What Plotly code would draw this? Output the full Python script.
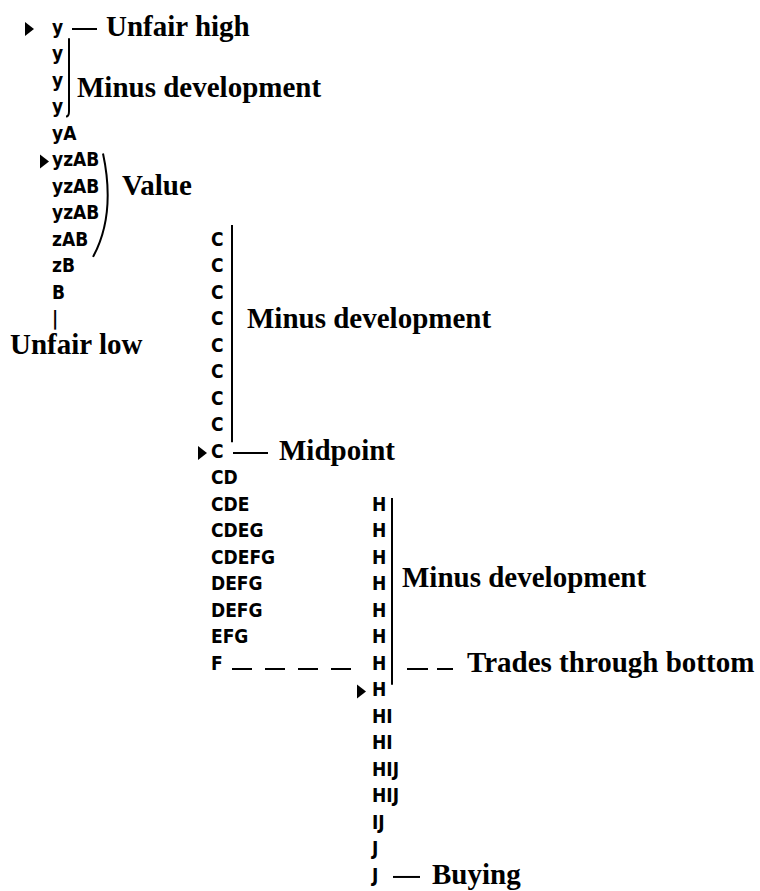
#%%
import plotly.graph_objects as go

#%%
# market profile letters, one string per price row (row 0 = top)
col1_letters = ["y", "y", "y", "y", "yA", "yzAB", "yzAB", "yzAB", "zAB", "zB", "B", "|"]
col1_start = 0
col2_letters = ["C", "C", "C", "C", "C", "C", "C", "C", "C",
                "CD", "CDE", "CDEG", "CDEFG", "DEFG", "DEFG", "EFG", "F"]
col2_start = 8
col3_letters = ["H", "H", "H", "H", "H", "H", "H", "H",
                "HI", "HI", "HIJ", "HIJ", "IJ", "J", "J"]
col3_start = 18

# rows marked with an arrow
col1_arrows = [0, 5]
col2_arrows = [16]
col3_arrows = [25]

# notes beside the profile
note_text = ["Unfair high", "Minus development", "Value", "Unfair low",
             "Minus development", "Midpoint", "Minus development",
             "Trades through bottom", "Buying"]
note_row = [0, 2.3, 6, 12, 11, 16, 20.8, 24, 32]

#%%
col_x = [52, 211, 372]
arrow_x = [28, 43, 201, 360]
note_x = [106, 77, 122, 10, 247, 279, 402, 467, 432]

letter_font = dict(family="DejaVu Sans Condensed, DejaVu Sans, sans-serif",
                   size=19, color="black", weight="bold")
note_font = dict(family="Liberation Serif, Times New Roman, serif",
                 size=29, color="black", weight="bold")

fig = go.Figure()

for x, start, letters in zip(col_x, [col1_start, col2_start, col3_start],
                             [col1_letters, col2_letters, col3_letters]):
    fig.add_trace(go.Scatter(
        x=[x] * len(letters), y=list(range(start, start + len(letters))),
        mode="text", text=letters, textposition="middle right",
        textfont=letter_font, hoverinfo="skip", showlegend=False))

arrow_rows = col1_arrows + col2_arrows + col3_arrows
fig.add_trace(go.Scatter(
    x=arrow_x, y=arrow_rows, mode="markers",
    marker=dict(symbol="triangle-right", size=12, color="black", line_width=0),
    hoverinfo="skip", showlegend=False))

fig.add_trace(go.Scatter(
    x=note_x, y=note_row, mode="text", text=note_text,
    textposition="middle right", textfont=note_font,
    hoverinfo="skip", showlegend=False))

#%%
# brackets and leader lines
line = dict(color="black", width=2)
fig.add_shape(type="line", x0=72, x1=97, y0=0, y1=0, line=line)
fig.add_shape(type="path", path="M 69,0.35 L 69,3.1 Q 69,3.3 66,3.3", line=line)
fig.add_shape(type="path", path="M 103,4.7 Q 116,7.0 93,8.6", line=line)
fig.add_shape(type="line", x0=232, x1=232, y0=7.4, y1=15.6, line=line)
fig.add_shape(type="line", x0=233, x1=268, y0=16, y1=16, line=line)
fig.add_shape(type="line", x0=392, x1=392, y0=17.7, y1=24.75, line=line)
fig.add_shape(type="line", x0=232, x1=357, y0=24.15, y1=24.15,
              line=dict(color="black", width=2, dash="20px,13px"))
fig.add_shape(type="line", x0=407, x1=453, y0=24.15, y1=24.15,
              line=dict(color="black", width=2, dash="21px,9px"))
fig.add_shape(type="line", x0=393, x1=420, y0=32, y1=32, line=line)

fig.update_xaxes(range=[0, 760], visible=False, fixedrange=True)
fig.update_yaxes(range=[32.53, -1.094], visible=False, fixedrange=True)
fig.update_layout(width=760, height=891, margin=dict(l=0, r=0, t=0, b=0),
                  plot_bgcolor="white", paper_bgcolor="white")

# page has a default body margin, drop it so the figure sits at 0,0
fig.write_html("out.html", config={"displayModeBar": False},
               post_script="document.body.style.margin='0';")
